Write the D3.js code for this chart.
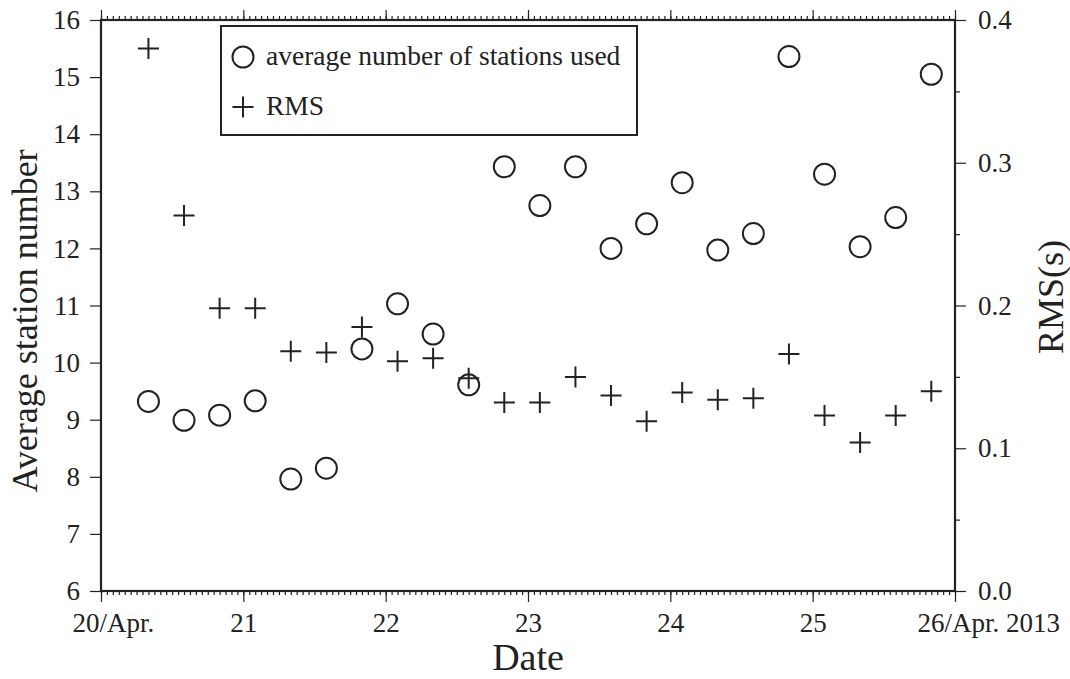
<!DOCTYPE html>
<html>
<head>
<meta charset="utf-8">
<script src="https://cdn.jsdelivr.net/npm/d3@7"></script>
<style>
  body { margin: 0; background: #fff; }
  svg { display: block; }
</style>
</head>
<body>
<div id="chart"></div>
<script>
// sample times (6 hour windows after the 20 April 2013 mainshock)
var times = [
  "2013-04-20 08:00", "2013-04-20 14:00", "2013-04-20 20:00",
  "2013-04-21 02:00", "2013-04-21 08:00", "2013-04-21 14:00", "2013-04-21 20:00",
  "2013-04-22 02:00", "2013-04-22 08:00", "2013-04-22 14:00", "2013-04-22 20:00",
  "2013-04-23 02:00", "2013-04-23 08:00", "2013-04-23 14:00", "2013-04-23 20:00",
  "2013-04-24 02:00", "2013-04-24 08:00", "2013-04-24 14:00", "2013-04-24 20:00",
  "2013-04-25 02:00", "2013-04-25 08:00", "2013-04-25 14:00", "2013-04-25 20:00"
];
var stations = [9.32, 8.99, 9.08, 9.33, 7.96, 8.15, 10.24, 11.03, 10.50, 9.61,
                13.43, 12.75, 13.43, 12.00, 12.43, 13.15, 11.97, 12.26,
                15.36, 13.30, 12.03, 12.54, 15.05];
var rms = [0.380, 0.263, 0.198, 0.198, 0.168, 0.167, 0.185, 0.161, 0.163, 0.149,
           0.132, 0.132, 0.150, 0.137, 0.119, 0.139, 0.134, 0.135,
           0.166, 0.123, 0.104, 0.123, 0.140];
var dayLabels = ["20/Apr.", "21", "22", "23", "24", "25", "26/Apr. 2013"];
var rmsTicks = [0.0, 0.1, 0.2, 0.3, 0.4];
var rmsMinor = [0.05, 0.15, 0.25, 0.35];
var legendLabels = ["average number of stations used", "RMS"];

var W = 1070, H = 679;
var margin = {top: 20, right: 115, bottom: 88, left: 101};
var w = W - margin.left - margin.right,
    h = H - margin.top - margin.bottom;
var FONT = "'Liberation Serif', 'Times New Roman', Times, 'DejaVu Serif', serif";
var INK = "#222";

var parse = d3.timeParse("%Y-%m-%d %H:%M");
var data = times.map(function(t, i) {
  return {t: parse(t), n: stations[i], rms: rms[i]};
});

var svg = d3.select("#chart").append("svg")
  .attr("width", W).attr("height", H);
var g = svg.append("g")
  .attr("transform", "translate(" + margin.left + "," + margin.top + ")");

var x = d3.scaleTime()
  .domain([new Date(2013, 3, 20), new Date(2013, 3, 26)])
  .range([0, w]);
var yL = d3.scaleLinear().domain([6, 16]).range([h, 0]);
var yR = d3.scaleLinear().domain([0, 0.4]).range([h, 0]);

var tickFont = "27px";

// hourly minor ticks, bottom and top
g.append("g")
  .attr("transform", "translate(0," + h + ")")
  .call(d3.axisBottom(x).ticks(d3.timeHour.every(1)).tickSize(4).tickFormat(""));
g.append("g")
  .call(d3.axisTop(x).ticks(d3.timeHour.every(1)).tickSize(4).tickFormat(""));
g.append("g")
  .call(d3.axisTop(x).ticks(d3.timeDay.every(1)).tickSize(10).tickFormat(""));

// bottom axis with day labels
var xAxis = g.append("g")
  .attr("transform", "translate(0," + h + ")")
  .call(d3.axisBottom(x).ticks(d3.timeDay.every(1)).tickSize(11).tickPadding(11)
    .tickFormat(function(d, i) { return dayLabels[i]; }));
xAxis.selectAll(".tick text").filter(function(d, i) { return i === 0; })
  .attr("text-anchor", "start").attr("x", -29);
xAxis.selectAll(".tick text").filter(function(d, i) { return i === dayLabels.length - 1; })
  .attr("text-anchor", "start").attr("x", -38);

// left axis
g.append("g")
  .call(d3.axisLeft(yL).ticks(10).tickSize(11).tickPadding(10).tickFormat(d3.format("d")));

// right axis
g.append("g")
  .attr("transform", "translate(" + w + ",0)")
  .call(d3.axisRight(yR).tickValues(rmsTicks).tickSize(11).tickPadding(12)
    .tickFormat(d3.format(".1f")));
g.append("g")
  .attr("transform", "translate(" + w + ",0)")
  .call(d3.axisRight(yR).tickValues(rmsMinor).tickSize(5).tickFormat(""));

g.selectAll(".domain").remove();
g.selectAll(".tick line").attr("stroke", INK).attr("stroke-width", 1.2);
g.selectAll(".tick text")
  .style("font-family", FONT).style("font-size", tickFont).style("fill", INK);

// frame
g.append("rect")
  .attr("width", w).attr("height", h)
  .attr("fill", "none").attr("stroke", INK).attr("stroke-width", 2.2);

// data: circles (left axis), crosses (right axis)
var R = 10.5;
g.selectAll(".stn").data(data).enter().append("circle")
  .attr("class", "stn")
  .attr("cx", function(d) { return x(d.t); })
  .attr("cy", function(d) { return yL(d.n); })
  .attr("r", R)
  .attr("fill", "none").attr("stroke", INK).attr("stroke-width", 2);

function plusPath(cx, cy, s) {
  return "M" + (cx - s) + "," + cy + "H" + (cx + s) + "M" + cx + "," + (cy - s) + "V" + (cy + s);
}
g.selectAll(".rms").data(data).enter().append("path")
  .attr("class", "rms")
  .attr("d", function(d) { return plusPath(x(d.t), yR(d.rms), 10.5); })
  .attr("fill", "none").attr("stroke", INK).attr("stroke-width", 2);

// legend
var lg = svg.append("g");
lg.append("rect")
  .attr("x", 221).attr("y", 26).attr("width", 416).attr("height", 109)
  .attr("fill", "#fff").attr("stroke", INK).attr("stroke-width", 2);
lg.append("circle").attr("cx", 243).attr("cy", 57).attr("r", R)
  .attr("fill", "none").attr("stroke", INK).attr("stroke-width", 2);
lg.append("path").attr("d", plusPath(243, 107, 10.5))
  .attr("fill", "none").attr("stroke", INK).attr("stroke-width", 2);
lg.selectAll(".lt").data(legendLabels).enter().append("text")
  .attr("x", 266).attr("y", function(d, i) { return 65 + i * 50; })
  .style("font-family", FONT).style("font-size", "27.5px").style("fill", INK)
  .text(function(d) { return d; });

// axis titles
svg.append("text")
  .attr("x", margin.left + w / 2).attr("y", 670)
  .attr("text-anchor", "middle")
  .style("font-family", FONT).style("font-size", "38px").style("fill", INK)
  .text("Date");
svg.append("text")
  .attr("transform", "translate(37,321) rotate(-90)")
  .attr("text-anchor", "middle")
  .style("font-family", FONT).style("font-size", "36px").style("fill", INK)
  .text("Average station number");
svg.append("text")
  .attr("transform", "translate(1063,297) rotate(-90)")
  .attr("text-anchor", "middle")
  .style("font-family", FONT).style("font-size", "36px").style("fill", INK)
  .text("RMS(s)");
</script>
</body>
</html>
